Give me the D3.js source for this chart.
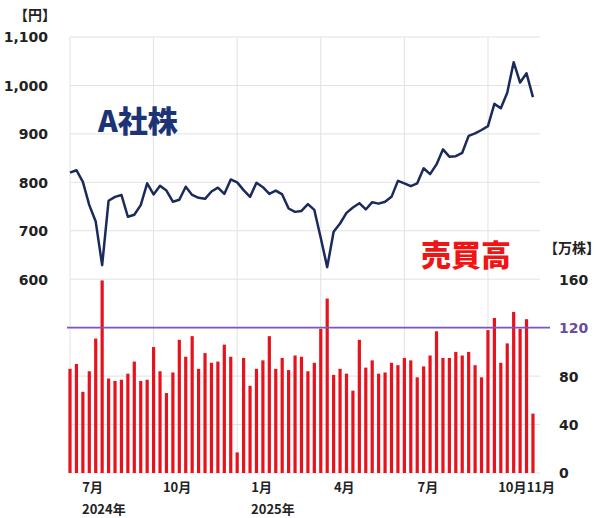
<!DOCTYPE html>
<html>
<head>
<meta charset="utf-8">
<script src="https://cdn.jsdelivr.net/npm/d3@7"></script>
<style>
  html, body { margin: 0; padding: 0; background: #fff; }
  svg { display: block; }
</style>
</head>
<body>
<svg id="chart" width="600" height="518"></svg>
<script>
// ---------- data ----------
const firstWeek = "2024-06-07";          // date of the first weekly point
const prices = [820, 825, 801, 753, 719, 629, 762, 770, 774, 729, 733, 753, 798,
  775, 793, 783, 760, 764, 791, 774, 768, 766, 781, 789, 776, 806, 800,
  784, 770, 799, 790, 776, 783, 775, 746, 739, 741, 755, 743, 685, 625,
  698, 715, 737, 748, 757, 744, 759, 756, 760, 770, 803, 798, 792, 798,
  829, 817, 837, 868, 853, 854, 861, 896, 901, 908, 916, 962, 953, 985,
  1048, 1006, 1025, 976];
const volumes = [86, 90, 67, 84, 111, 159, 78, 76, 77, 82, 92, 76, 77,
  104, 84, 66, 83, 110, 96, 113, 86, 99, 91, 92, 106, 96, 17,
  95, 72, 86, 93, 113, 86, 95, 85, 97, 96, 84, 91, 119, 144,
  81, 86, 82, 68, 110, 87, 93, 82, 83, 91, 89, 95, 93, 79,
  88, 97, 117, 95, 95, 100, 97, 100, 89, 79, 118, 128, 91, 107,
  133, 119, 127, 49];
const priceTicks = [600, 700, 800, 900, 1000, 1100];
const volumeTicks = [0, 40, 80, 120, 160];
const monthTickDates = ["2024-07-01", "2024-10-01", "2025-01-01", "2025-04-01", "2025-07-01", "2025-10-01", "2025-11-01"];
const monthTickLabels = ["7月", "10月", "1月", "4月", "7月", "10月", "11月"];
const yearLabelDates = ["2024-07-01", "2025-01-01"];
const yearLabels = ["2024年", "2025年"];
const volumeThreshold = 120;
const gridEveryWeeks = 13;

(function () {
// ---------- setup ----------
const parse = d3.timeParse("%Y-%m-%d");
const w0 = parse(firstWeek);
const weeks = prices.map((_, i) => d3.timeDay.offset(w0, i * 7));

const svg = d3.select("#chart");
const plotLeft = 70, stepPx = 6.43, plotTop = 37, plotBottom = 473, plotRight = 540;

const x = d3.scaleTime()
  .domain([weeks[0], weeks[weeks.length - 1]])
  .range([plotLeft, plotLeft + (weeks.length - 1) * stepPx]);
const yPrice = d3.scaleLinear().domain([200, 1100]).range([plotBottom, plotTop]);
const yVol = d3.scaleLinear().domain([0, 360]).range([plotBottom, plotTop]);

const numFont = "'DejaVu Sans', Verdana, sans-serif";
const cjkFont = "'Noto Sans CJK JP', 'DejaVu Sans', sans-serif";

// ---------- grid ----------
const gridVals = d3.range(200, 1101, 100);
svg.append("g").selectAll("line").data(gridVals).join("line")
  .attr("x1", plotLeft).attr("x2", plotRight)
  .attr("y1", d => yPrice(d)).attr("y2", d => yPrice(d))
  .attr("stroke", "#e2e2e2").attr("stroke-width", 1);

const vGrid = weeks.filter((_, i) => i % gridEveryWeeks === 0);
svg.append("g").selectAll("line").data(vGrid).join("line")
  .attr("x1", d => x(d)).attr("x2", d => x(d))
  .attr("y1", plotTop).attr("y2", plotBottom)
  .attr("stroke", "#e2e2e2").attr("stroke-width", 1);

// ---------- bars ----------
const barW = 3.2;
svg.append("g").selectAll("rect").data(volumes).join("rect")
  .attr("x", (d, i) => x(weeks[i]) - barW / 2)
  .attr("width", barW)
  .attr("y", d => yVol(d))
  .attr("height", d => yVol(0) - yVol(d))
  .attr("fill", "#e8121c");

// threshold line
svg.append("line")
  .attr("x1", plotLeft - 3).attr("x2", plotRight + 10)
  .attr("y1", yVol(volumeThreshold)).attr("y2", yVol(volumeThreshold))
  .attr("stroke", "#7b55c0").attr("stroke-width", 1.6);

// ---------- price line ----------
svg.append("path")
  .datum(prices)
  .attr("fill", "none")
  .attr("stroke", "#1b2a5c")
  .attr("stroke-width", 2.5)
  .attr("stroke-linejoin", "round")
  .attr("d", d3.line().x((d, i) => x(weeks[i])).y(d => yPrice(d)));

// ---------- axes ----------
const leftAxis = d3.axisLeft(yPrice).tickValues(priceTicks).tickSize(0).tickPadding(0)
  .tickFormat(d3.format(","));
const gl = svg.append("g").attr("transform", "translate(48,0)").call(leftAxis);
gl.select(".domain").remove();
gl.selectAll("text")
  .attr("font-family", numFont).attr("font-weight", "bold")
  .attr("font-size", 14).attr("fill", "#222").attr("dy", "0.35em");

const rightAxis = d3.axisRight(yVol).tickValues(volumeTicks).tickSize(0).tickPadding(0);
const gr = svg.append("g").attr("transform", "translate(559,0)").call(rightAxis);
gr.select(".domain").remove();
gr.selectAll("text")
  .attr("font-family", numFont).attr("font-weight", "bold")
  .attr("font-size", 14).attr("dy", "0.35em")
  .attr("fill", d => d === volumeThreshold ? "#6a4c9c" : "#222");

const bottomAxis = d3.axisBottom(x)
  .tickValues(monthTickDates.map(parse)).tickSize(0).tickPadding(0)
  .tickFormat((d, i) => monthTickLabels[i]);
const gb = svg.append("g").attr("transform", "translate(0,487)").call(bottomAxis);
gb.select(".domain").remove();
gb.selectAll("text")
  .attr("font-family", cjkFont).attr("font-weight", "bold")
  .attr("font-size", 13).attr("fill", "#222").attr("dy", "0.35em");

// year labels (aligned with start of their month labels)
svg.append("g").selectAll("text").data(yearLabels).join("text")
  .attr("font-family", cjkFont).attr("font-weight", "bold")
  .attr("font-size", 13).attr("fill", "#222")
  .attr("y", 509).attr("dy", "0.35em")
  .attr("x", (d, i) => x(parse(yearLabelDates[i])) - 10)
  .text(d => d);

// unit labels
svg.append("text").attr("x", 14).attr("y", 15).attr("dy", "0.35em")
  .attr("font-family", cjkFont).attr("font-weight", "bold")
  .attr("font-size", 14).attr("fill", "#222").text("【円】");
svg.append("text").attr("x", 544).attr("y", 248).attr("dy", "0.35em")
  .attr("font-family", cjkFont).attr("font-weight", "bold")
  .attr("font-size", 14).attr("fill", "#222").text("【万株】");

// series titles
svg.append("text").attr("x", 98).attr("y", 121).attr("dy", "0.35em")
  .attr("font-family", cjkFont).attr("font-weight", 900)
  .attr("font-size", 30).attr("fill", "#1c3476").text("A社株");
svg.append("text").attr("x", 421).attr("y", 255).attr("dy", "0.35em")
  .attr("font-family", cjkFont).attr("font-weight", 900)
  .attr("font-size", 30).attr("fill", "#f01414").text("売買高");
})();
</script>
</body>
</html>
